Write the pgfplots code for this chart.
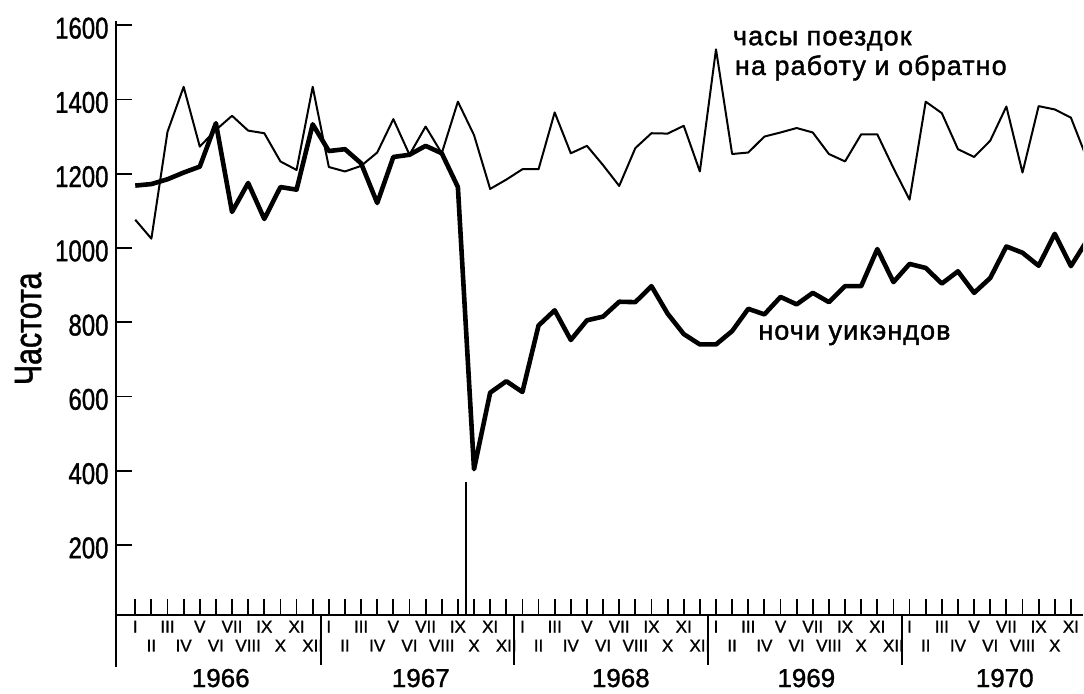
\documentclass[border=0pt]{standalone}
\usepackage{pgfplots}
\pgfplotsset{compat=1.18}
\usepackage{pgfplotstable}
\usepackage{fontspec}
\setmainfont{Liberation Sans}
\newfontfamily\condfont{Liberation Sans}[FakeStretch=0.8, FakeBold=1.2]
\newfontfamily\lblfont{Liberation Sans}[FakeBold=1.2]
\newfontfamily\txtfont{Liberation Sans}[FakeBold=1.5, LetterSpace=4]
\usetikzlibrary{calc}

% monthly values, 1966-1970 (m = 1 is January 1966)
\pgfplotstableread{
m  thin  thick
1  1076  1168
2  1025  1172
3  1313  1185
4  1434  1203
5  1273  1219
6  1318  1336
7  1356  1097
8  1316  1175
9  1309  1078
10 1233  1164
11 1210  1157
12 1434  1333
13 1218  1261
14 1206  1266
15 1221  1228
16 1257  1121
17 1347  1245
18 1251  1251
19 1327  1275
20 1255  1255
21 1394  1164
22 1304  404
23 1159  610
24 1184  641
25 1212  612
26 1212  791
27 1365  832
28 1255  752
29 1275  805
30 1223  815
31 1167  855
32 1269  854
33 1309  897
34 1308  823
35 1329  768
36 1206  740
37 1535  740
38 1253  776
39 1257  836
40 1300  821
41 1311  868
42 1323  848
43 1311  879
44 1253  854
45 1233  897
46 1306  897
47 1306  997
48 1215  908
49 1130  957
50 1394  946
51 1363  904
52 1266  937
53 1245  879
54 1289  919
55 1381  1004
56 1203  987
57 1382  952
58 1373  1038
59 1351  951
60 1240  1020
}\data

\begin{document}
\begin{tikzpicture}
\begin{axis}[
    name=ax, at={(0,0)}, anchor=south west,
    scale only axis, width=484pt, height=297.25pt,
    xmin=-0.2, xmax=59.75, ymin=10, ymax=1610,
    axis x line=bottom, axis y line=left,
    axis line style={-, line width=1pt},
    tick align=inside, major tick length=8pt,
    tick style={black, line width=0.9pt},
    ytick={200,400,...,1600},
    /pgf/number format/assume math mode=true,
    /pgf/number format/set thousands separator={},
    yticklabel style={font=\condfont\fontsize{15}{15}\selectfont, inner sep=0pt, xshift=-3.5pt, yshift=-1.5pt},
    xtick={1,3,...,59},
    xticklabels={I,III,V,VII,IX,XI,I,III,V,VII,IX,XI,I,III,V,VII,IX,XI,I,III,V,VII,IX,XI,I,III,V,VII,IX,XI},
    xticklabel style={font=\lblfont\fontsize{8.5}{9}\selectfont, inner sep=0pt, yshift=-2.5pt},
    extra x ticks={2,4,...,58},
    extra x tick labels={II,IV,VI,VIII,X,XII,II,IV,VI,VIII,X,XII,II,IV,VI,VIII,X,XII,II,IV,VI,VIII,X,XII,II,IV,VI,VIII,X},
    extra x tick style={tick label style={yshift=-9.5pt}},
    clip mode=individual,
]
\addplot[black, line width=1pt, line join=round] table[x=m, y=thin] {\data};
\addplot[black, line width=2.3pt, line join=round] table[x=m, y=thick] {\data};
\addplot[black, line width=0.9pt] coordinates {(21.5,10) (21.5,370)};

% year separators below the axis
\draw[line width=1pt] (axis cs:-0.2,10) -- ++(0pt,-26pt);
\pgfplotsinvokeforeach{12.5,24.5,36.5,48.5}{
  \draw[line width=1pt] (axis cs:#1,10) -- ++(0pt,-25pt);
}
\node[font=\lblfont\fontsize{13}{13}\selectfont] at ($(axis cs:6.1,10)+(0,-29.5pt)$) {1966};
\node[font=\lblfont\fontsize{13}{13}\selectfont] at ($(axis cs:18.5,10)+(0,-29.5pt)$) {1967};
\node[font=\lblfont\fontsize{13}{13}\selectfont] at ($(axis cs:30.9,10)+(0,-29.5pt)$) {1968};
\node[font=\lblfont\fontsize{13}{13}\selectfont] at ($(axis cs:42.4,10)+(0,-29.5pt)$) {1969};
\node[font=\lblfont\fontsize{13}{13}\selectfont] at ($(axis cs:54.7,10)+(0,-29.5pt)$) {1970};

\node[rotate=90, font=\condfont\fontsize{19}{19}\selectfont] at ($(axis cs:-0.2,792)+(-45.5pt,0)$) {Частота};

\node[anchor=base west, inner sep=0pt, font=\txtfont\fontsize{13.5}{14}\selectfont] at (axis cs:38.03,1546) {часы поездок};
\node[anchor=base west, inner sep=0pt, font=\txtfont\fontsize{13.5}{14}\selectfont] at (axis cs:38.15,1466) {на работу и обратно};
\node[anchor=base west, inner sep=0pt, font=\txtfont\fontsize{13.5}{14}\selectfont] at (axis cs:39.6,753) {ночи уикэндов};
\end{axis}
\path[use as bounding box] ($(ax.south west)+(-58pt,-38.5pt)$) rectangle ($(ax.south west)+(484pt,308pt)$);
\end{tikzpicture}
\end{document}
